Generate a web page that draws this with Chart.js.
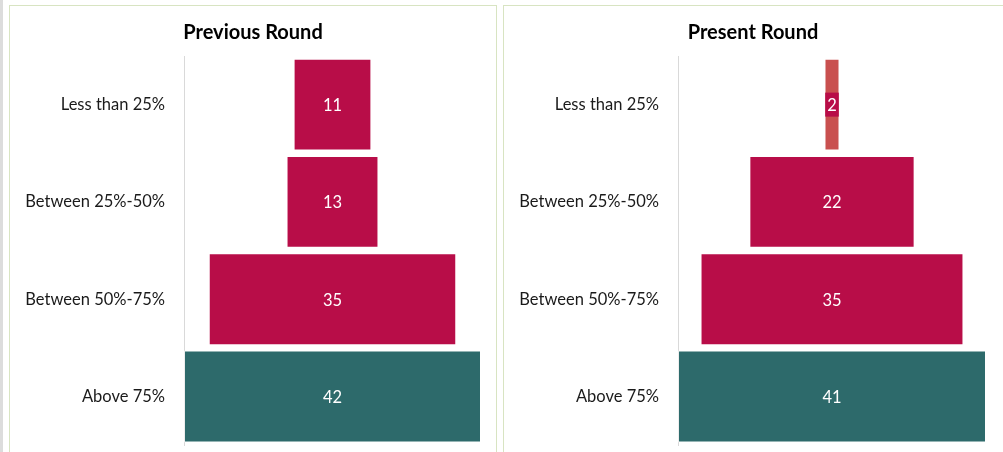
<!DOCTYPE html>
<html>
<head>
<meta charset="utf-8">
<script src="https://cdn.jsdelivr.net/npm/chart.js@4"></script>
<style>
  body { margin: 0; background: #fff; width: 1003px; height: 452px; overflow: hidden; position: relative; font-family: Lato, sans-serif; }
  .strip { position: absolute; left: 0; top: 0; width: 3px; height: 452px; background: #dcdcdc; }
  .panel { position: absolute; top: 5px; border: 1px solid #d8e4c2; background: #fff; }
  #p1 { left: 9px; width: 486px; height: 470px; }
  #p2 { left: 503px; width: 510px; height: 470px; }
  canvas { display: block; }
</style>
</head>
<body>
<div class="strip"></div>
<div class="panel" id="p1"><canvas id="chartPrev" width="486" height="460"></canvas></div>
<div class="panel" id="p2"><canvas id="chartPres" width="498" height="460"></canvas></div>
<script>
const categories = ["Less than 25%", "Between 25%-50%", "Between 50%-75%", "Above 75%"];
const previousValues = [11, 13, 35, 42];
const presentValues = [2, 22, 35, 41];
const previousColors = ["#b80d48", "#b80d48", "#b80d48", "#2d6a6b"];
const presentColors = ["#c9504f", "#b80d48", "#b80d48", "#2d6a6b"];

// label inside each bar; small bars get a crimson box behind the number
const valueLabels = {
  id: "valueLabels",
  afterDatasetsDraw(chart) {
    const ctx = chart.ctx;
    const meta = chart.getDatasetMeta(0);
    const vals = chart.data.datasets[0].values;
    ctx.save();
    ctx.font = "16.5px Lato, sans-serif";
    ctx.textAlign = "center";
    ctx.textBaseline = "middle";
    meta.data.forEach((bar, i) => {
      const txt = String(vals[i]);
      const cx = (bar.x + bar.base) / 2;
      const w = Math.abs(bar.x - bar.base);
      const tw = ctx.measureText(txt).width;
      if (tw + 10 > w) {
        ctx.fillStyle = "#b80d48";
        ctx.fillRect(cx - tw / 2 - 2, bar.y - 12, tw + 4, 24);
      }
      ctx.fillStyle = "#ffffff";
      ctx.fillText(txt, cx, bar.y + 1);
    });
    ctx.restore();
  }
};

function makeFunnel(id, title, values, colors, rightGap) {
  const half = Math.max(...values) / 2;
  return new Chart(document.getElementById(id), {
    type: "bar",
    data: {
      labels: categories,
      datasets: [{
        values: values,
        data: values.map(v => [-v / 2, v / 2]),
        backgroundColor: colors,
        borderColor: "rgba(255,255,255,0.55)",
        borderWidth: 1,
        borderSkipped: false,
        categoryPercentage: 1,
        barPercentage: 0.945
      }]
    },
    plugins: [valueLabels],
    options: {
      indexAxis: "y",
      responsive: false,
      animation: false,
      layout: { padding: { left: 0, right: 0, bottom: 19, top: 0 } },
      plugins: {
        legend: { display: false },
        tooltip: { enabled: false },
        title: {
          display: true,
          text: title,
          color: "#000",
          font: { family: "Lato, sans-serif", size: 20, weight: "bold" },
          padding: { top: 15, bottom: 11 }
        }
      },
      scales: {
        x: { display: false, min: -half, max: half },
        y: {
          grid: { display: false },
          border: { display: true, color: "#d9d9d9", width: 1 },
          ticks: { color: "#1a1a1a", padding: 11, font: { family: "Lato, sans-serif", size: 16.5 } },
          afterFit(scale) { scale.width = 174; }
        },
        // empty right-hand axis, only keeps a margin so the title stays centred on the panel
        gap: {
          type: "category",
          position: "right",
          grid: { display: false },
          border: { display: false },
          ticks: { display: false },
          afterFit(scale) { scale.width = rightGap; }
        }
      }
    }
  });
}

makeFunnel("chartPrev", "Previous Round", previousValues, previousColors, 15);
makeFunnel("chartPres", "Present Round", presentValues, presentColors, 16);
</script>
</body>
</html>
